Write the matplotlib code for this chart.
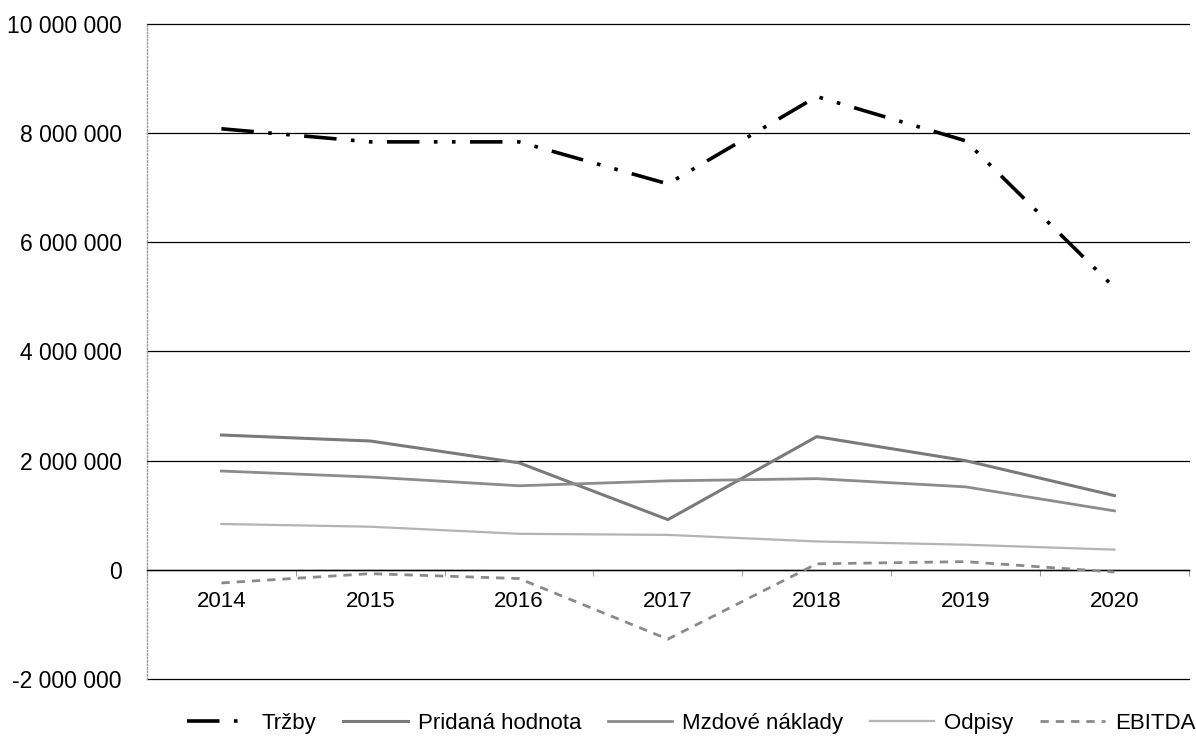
import matplotlib
matplotlib.use("Agg")
import matplotlib.pyplot as plt
import matplotlib.ticker as mticker
import numpy as np

plt.rcParams['font.family'] = ['Liberation Sans', 'DejaVu Sans']

# ---------------------------------------------------------------------------
# Data
# ---------------------------------------------------------------------------
years = ["2014", "2015", "2016", "2017", "2018", "2019", "2020"]
trzby = [8080000, 7840000, 7840000, 7070000, 8670000, 7860000, 5170000]
pridana_hodnota = [2470000, 2360000, 1960000, 920000, 2440000, 2000000, 1360000]
mzdove_naklady = [1810000, 1700000, 1540000, 1630000, 1670000, 1520000, 1080000]
odpisy = [840000, 790000, 660000, 640000, 520000, 460000, 370000]
ebitda = [-240000, -70000, -160000, -1270000, 110000, 150000, -40000]

y_ticks = [-2000000, 0, 2000000, 4000000, 6000000, 8000000, 10000000]

fig = plt.figure(figsize=(11.96, 7.42), dpi=100)
ax = fig.add_axes([0.1229, 0.0849, 0.8711, 0.8828])

x = np.arange(len(years))

ax.plot(x, trzby, color="black", lw=2.6, linestyle=(0, (9, 4, 1, 4, 1, 4)),
        label="Tržby", zorder=5)
ax.plot(x, pridana_hodnota, color="#7a7a7a", lw=2.2, label="Pridaná hodnota", zorder=4)
ax.plot(x, mzdove_naklady, color="#8c8c8c", lw=2.0, label="Mzdové náklady", zorder=4)
ax.plot(x, odpisy, color="#b4b4b4", lw=1.6, label="Odpisy", zorder=4)
ax.plot(x, ebitda, color="#8a8a8a", lw=2.0, linestyle=(0, (3, 2.5)),
        label="EBITDA", zorder=4)

# axes limits / ticks
ax.set_xlim(-0.5, len(years) - 0.5)
ax.set_ylim(y_ticks[0], y_ticks[-1])
ax.set_yticks(y_ticks)
ax.yaxis.set_major_formatter(
    mticker.FuncFormatter(lambda v, p: f"{int(v):,}".replace(",", " ")))
ax.tick_params(axis="y", length=0, pad=18, labelsize=16.5)

ax.set_xticks(x)
ax.set_xticklabels(years)
ax.set_xticks(np.arange(-0.5, len(years), 1.0), minor=True)
ax.tick_params(axis="x", which="major", length=0, pad=15, labelsize=16)
ax.tick_params(axis="x", which="minor", length=4, direction="out", color="#888888")

# gridlines
ax.grid(axis="y", color="black", lw=0.9, zorder=1, clip_on=False)
ax.set_axisbelow(True)

# spines
for s in ["top", "right"]:
    ax.spines[s].set_visible(False)
ax.spines["bottom"].set_position(("data", 0))
ax.spines["bottom"].set_color("black")
ax.spines["bottom"].set_linewidth(1.0)
ax.spines["left"].set_color("#999999")
ax.spines["left"].set_linestyle((0, (1, 1.5)))
ax.spines["left"].set_linewidth(1.0)

# legend at bottom
fig.legend(loc="center", bbox_to_anchor=(0.578, 0.025), ncol=5, frameon=False,
           fontsize=16, handlelength=2.9, columnspacing=1.2, handletextpad=0.45)

fig.savefig("out.png", dpi=100)
plt.close(fig)
